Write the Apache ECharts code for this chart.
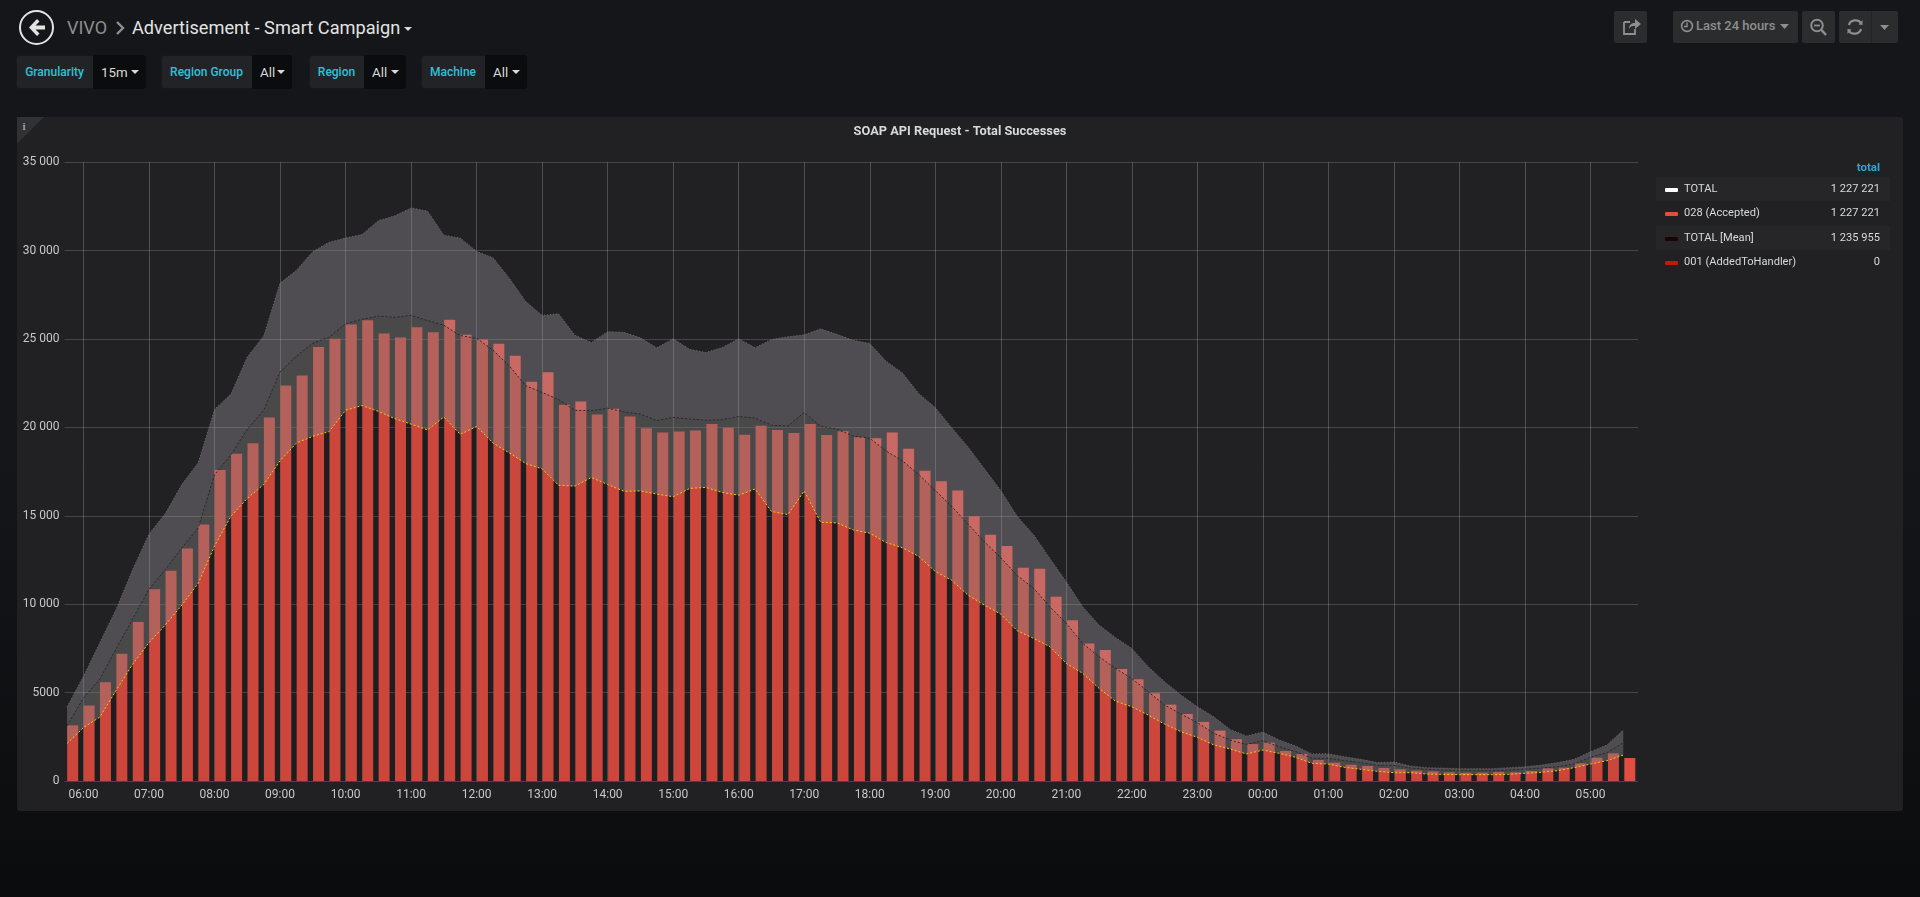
<!DOCTYPE html>
<html>
<head>
<meta charset="utf-8">
<script src="https://cdn.jsdelivr.net/npm/echarts@6/dist/echarts.min.js"></script>
<style>
html,body{margin:0;padding:0;width:1920px;height:897px;overflow:hidden;background:linear-gradient(#141619 0,#141619 50%,#0b0c0e 100%);font-family:Roboto,sans-serif;color:#d8d9da}
.abs{position:absolute}
#chart{position:absolute;left:0;top:0;width:1920px;height:897px}
#panel{position:absolute;left:17px;top:117px;width:1886px;height:694px;background:#212124;border-radius:3px}
.txt{position:absolute;white-space:nowrap}
.fbox{position:absolute;top:55px;height:34px;border-radius:3px;background:#212327;overflow:hidden;font-size:12px;font-weight:500;line-height:35px;box-shadow:inset 0 0 0 1px #16181a}
.fbox .lab{position:absolute;left:0;top:0;bottom:0;text-align:center;color:#2bc3d8}
.fbox .val{position:absolute;top:0;bottom:0;right:0;background:#0b0c0e;color:#d8d9da;font-weight:400;font-size:13.3px;line-height:35px;padding-left:8px;box-sizing:border-box}
.fbox .val i{position:absolute;top:15px;width:0;height:0;border-left:4px solid transparent;border-right:4px solid transparent;border-top:4px solid #d8d9da}
.btn{position:absolute;top:11px;height:32px;background:#2b2c2e;border-radius:2px}
.row{position:absolute;left:1656px;width:234px;height:24px;font-size:11.1px;line-height:23px;color:#d8d9da}
.row .sw{position:absolute;left:9px;top:11px;width:13px;height:4px;border-radius:1px}
.row .nm{position:absolute;left:28px;top:0}
.row .vl{position:absolute;right:10px;top:0}
</style>
</head>
<body>
<div id="panel"></div>
<svg class="abs" style="left:17px;top:117px" width="28" height="28"><polygon points="0,0 27,0 0,27" fill="#303134"/><text x="5.5" y="12.5" fill="#a0a0a0" font-size="11" font-weight="700" font-family="Liberation Serif">i</text></svg>

<svg class="abs" style="left:18px;top:9px" width="38" height="38">
  <circle cx="18.5" cy="18.5" r="16.5" fill="none" stroke="#e3e3e3" stroke-width="2"/>
  <path d="M19 10 L11 18.5 L19 27 L21.5 24.5 L17.5 20.5 L27 20.5 L27 16.5 L17.5 16.5 L21.5 12.5 Z" fill="#e3e3e3"/>
</svg>
<div class="txt" style="left:67px;top:16px;font-size:18px;line-height:23px;color:#8e8e8e">VIVO</div>
<svg class="abs" style="left:114px;top:20px" width="12" height="16"><path d="M3 2 L9 8 L3 14" fill="none" stroke="#8e8e8e" stroke-width="2.4"/></svg>
<div class="txt" style="left:132px;top:16px;font-size:18.2px;line-height:23px;color:#e3e3e3">Advertisement - Smart Campaign</div>
<svg class="abs" style="left:404px;top:27px" width="9" height="5"><polygon points="0,0 8,0 4,4" fill="#d8d9da"/></svg>

<div id="filters"></div>

<div class="btn" style="left:1614px;width:33px">
  <svg width="33" height="32"><path d="M10 11 H16 M10 11 V23 H21 V18" fill="none" stroke="#8e8e8e" stroke-width="1.8"/><path d="M15 18 C15 13 18 12 21 12 V8 L27 13 L21 18 V15 C18 15 16 15.5 15 18 Z" fill="#8e8e8e"/></svg>
</div>
<div class="btn" style="left:1673px;width:125px">
  <svg class="abs" style="left:7px;top:8px" width="14" height="14"><circle cx="7" cy="7" r="5.4" fill="none" stroke="#8e8e8e" stroke-width="1.6"/><path d="M7 3.5 V7.5 H4" fill="none" stroke="#8e8e8e" stroke-width="1.4"/></svg>
  <div class="txt" style="left:23px;top:0;font-size:13px;line-height:30px;color:#8e8e8e;font-weight:500">Last 24 hours</div>
  <svg class="abs" style="left:107px;top:13px" width="10" height="6"><polygon points="0,0 9,0 4.5,5" fill="#8e8e8e"/></svg>
</div>
<div class="btn" style="left:1802px;width:33px">
  <svg width="33" height="32"><circle cx="15" cy="14.5" r="5.8" fill="none" stroke="#8e8e8e" stroke-width="2"/><path d="M19.5 19 L24 24" stroke="#8e8e8e" stroke-width="2.6"/><path d="M12 14.5 H18" stroke="#8e8e8e" stroke-width="1.8"/></svg>
</div>
<div class="btn" style="left:1839px;width:59px">
  <svg class="abs" style="left:0;top:0" width="32" height="32"><path d="M10 14 C11 9 19 7.5 22 12" fill="none" stroke="#8e8e8e" stroke-width="2.2"/><polygon points="19.5,13.5 23.5,14 23.5,9" fill="#8e8e8e"/><path d="M22 18 C21 23 13 24.5 10 20" fill="none" stroke="#8e8e8e" stroke-width="2.2"/><polygon points="12.5,18.5 8.5,18 8.5,23" fill="#8e8e8e"/></svg>
  <div class="abs" style="left:32px;top:0;width:1px;height:32px;background:#232426"></div>
  <svg class="abs" style="left:41px;top:14px" width="10" height="6"><polygon points="0,0 9,0 4.5,5" fill="#8e8e8e"/></svg>
</div>

<div id="chart"></div>
<div class="txt" style="right:40px;top:160px;font-size:11.5px;font-weight:700;line-height:14px;color:#33a2d6">total</div>
<div id="legend"></div>

<script>
var barValues = [3150,4270,5590,7200,8990,10845,11900,13150,14510,17600,18510,19100,20570,22380,22940,24550,25020,25830,26070,25310,25090,25670,25380,26090,25240,24980,24730,24060,22580,23120,21290,21470,20730,21060,20620,19950,19720,19770,19830,20190,19990,19590,20100,19860,19680,20190,19570,19790,19450,19390,19720,18800,17550,16950,16430,14980,13930,13300,12070,12010,10425,9100,7785,7410,6330,5750,4960,4320,3790,3340,2850,2360,2090,2170,1700,1530,1190,1040,920,850,735,660,585,545,490,470,470,510,490,565,715,750,1000,1320,1565,1300];
var upperValues = [4200,5920,7830,9730,11960,13975,15140,16770,18000,21020,21890,23990,25180,28170,28890,29960,30480,30720,30920,31700,31970,32420,32240,30880,30720,29960,29600,28440,27120,26340,26430,25220,24800,25420,25380,25070,24510,25020,24420,24240,24530,25020,24510,24980,25130,25240,25580,25270,24930,24750,23750,23080,21910,21130,19990,18900,17660,16430,14980,13930,12590,11270,9860,8820,8120,7500,6470,5620,4860,4200,3640,2920,2545,2770,2320,1980,1530,1545,1375,1225,1040,1075,850,755,735,700,700,700,755,810,905,1040,1225,1660,2035,2885];
var meanValues = [3130,4700,5770,7490,9170,10850,11960,13190,14310,17330,18450,19900,20970,23140,24040,24770,25110,25870,26120,26300,26230,26340,26050,25780,25200,25040,24370,23480,22360,21980,21580,20970,20950,21090,20880,20750,20390,20570,20480,20410,20440,20620,20530,20120,20080,20840,20080,19900,19520,19390,18670,18110,17330,16430,15540,14530,13530,12630,11630,10900,9860,8920,7785,7030,6370,5800,5050,4300,3790,3300,2700,2320,2070,2280,1940,1660,1280,1280,1150,1040,885,885,735,660,620,585,585,585,620,680,735,810,960,1340,1600,2170];
var lowerValues = [2120,3020,3620,5140,6600,7830,8830,9950,11180,13300,14980,15990,16770,18110,19120,19500,19770,20970,21240,20910,20500,20190,19860,20590,19610,20060,19120,18560,17960,17660,16730,16680,17170,16770,16390,16410,16230,16080,16550,16610,16320,16170,16520,15250,15070,16410,14640,14600,14200,14020,13490,13190,12700,11850,11360,10510,9950,9440,8500,8070,7600,6650,6090,5240,4520,4200,3730,3220,2790,2470,2040,1810,1530,1750,1565,1340,1000,960,770,660,545,470,470,395,375,360,360,360,375,435,490,585,755,960,1150,1470];
var yTickLabels = ['0','5000','10 000','15 000','20 000','25 000','30 000','35 000'];
var legendNames = ['TOTAL','028 (Accepted)','TOTAL [Mean]','001 (AddedToHandler)'];
var legendTotals = ['1 227 221','1 227 221','1 235 955','0'];
var legendColors = ['#ffffff','#e24d42','#1a0505','#bf1b00'];
var filterNames = ['Granularity','Region Group','Region','Machine'];
var filterValues = ['15m','All','All','All'];

var STEP = 15 * 60000;
var start = new Date(2019, 5, 3, 5, 45).getTime();
function pad(n){return (n < 10 ? '0' : '') + n;}
function hm(t){var d = new Date(t);return pad(d.getHours()) + ':' + pad(d.getMinutes());}
var times = barValues.map(function(_, i){return start + i * STEP;});
var categories = times.map(hm);
function pairs(vals){return vals.map(function(v, i){return [times[i], v];});}

// page furniture
var fGeom = [[16,130,77],[161,131,91],[309,97,55],[421,106,64]];
document.getElementById('filters').innerHTML = filterNames.map(function(n, i){
  var g = fGeom[i], vw = g[1] - g[2];
  return '<div class="fbox" style="left:' + g[0] + 'px;width:' + g[1] + 'px"><div class="lab" style="width:' + g[2] + 'px">' + n +
    '</div><div class="val" style="width:' + vw + 'px">' + filterValues[i] + '<i style="right:7px"></i></div></div>';
}).join('');
document.getElementById('legend').innerHTML = legendNames.map(function(n, i){
  return '<div class="row" style="top:' + (177 + i * 24.4) + 'px;' + (i % 2 === 0 ? 'background:#262628' : '') + '"><div class="sw" style="background:' + legendColors[i] +
    '"></div><div class="nm">' + n + '</div><div class="vl">' + legendTotals[i] + '</div></div>';
}).join('');

var lineCommon = {type:'line', xAxisIndex:0, yAxisIndex:0, symbol:'none', silent:true, z:4};
var fillCommon = {type:'line', xAxisIndex:0, yAxisIndex:0, symbol:'none', silent:true, stack:'band', lineStyle:{width:0}, z:3};

var chart = echarts.init(document.getElementById('chart'), null, {renderer:'canvas'});
chart.setOption({
  backgroundColor:'transparent',
  animation:false,
  title:{text:'SOAP API Request - Total Successes', left:955, top:120, textAlign:'center',
    textStyle:{color:'#d8d9da', fontSize:12.8, fontWeight:700, fontFamily:'Roboto'}},
  grid:{left:64.5, right:282, top:162.3, bottom:116, containLabel:false},
  xAxis:[{
    type:'time', min:start - 2.4 * 60000, max:start + 1438.5 * 60000,
    minInterval:3600000, maxInterval:3600000,
    axisLine:{show:false}, axisTick:{show:false},
    splitLine:{show:true, showMinLine:false, showMaxLine:false, lineStyle:{color:'rgba(255,255,255,0.2)', width:1}},
    axisLabel:{color:'#c8c8c8', fontSize:12, fontFamily:'Roboto', margin:8, showMinLabel:false, showMaxLabel:false,
      formatter:function(v){return hm(v);}, hideOverlap:false}
  },{
    type:'category', data:categories, boundaryGap:true, show:false
  }],
  yAxis:[{
    type:'value', min:0, max:35000, interval:5000,
    axisLine:{show:false}, axisTick:{show:false},
    splitLine:{show:true, lineStyle:{color:'rgba(255,255,255,0.17)', width:1}},
    axisLabel:{color:'#c8c8c8', fontSize:12, fontFamily:'Roboto', margin:5,
      formatter:function(v){return yTickLabels[v / 5000];}}
  }],
  series:[
    {name:'028 (Accepted)', type:'bar', xAxisIndex:1, yAxisIndex:0, data:barValues, barWidth:'67%', itemStyle:{color:'#e24d42'}, silent:true, z:2},
    Object.assign({}, fillCommon, {name:'fill-lower', data:pairs(lowerValues), areaStyle:{color:'rgba(0,0,0,0.09)', opacity:1}}),
    Object.assign({}, fillCommon, {name:'fill-mean', data:pairs(meanValues.map(function(v,i){return v - lowerValues[i];})), areaStyle:{color:'rgba(125,123,123,0.446)', opacity:1}}),
    Object.assign({}, fillCommon, {name:'fill-upper', data:pairs(upperValues.map(function(v,i){return v - meanValues[i];})), areaStyle:{color:'rgba(160,155,160,0.37)', opacity:1}}),
    Object.assign({}, lineCommon, {name:'Upper', data:pairs(upperValues), lineStyle:{color:'#6f6d70', width:1, type:[1,2]}}),
    Object.assign({}, lineCommon, {name:'TOTAL [Mean]', data:pairs(meanValues), lineStyle:{color:'#2a2628', width:1, type:[2,2]}}),
    Object.assign({}, lineCommon, {name:'Lower', data:pairs(lowerValues), lineStyle:{color:'#f2cc0c', width:1, type:[2,2]}})
  ]
});
</script>
</body>
</html>
